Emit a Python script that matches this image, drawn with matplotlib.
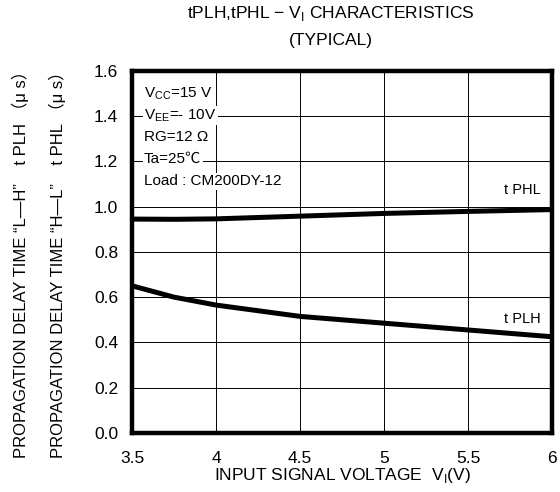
import matplotlib.pyplot as plt

plt.rcParams['font.family'] = ['Liberation Sans', 'Noto Sans CJK JP', 'DejaVu Sans']

# values
v_in = [3.5, 3.75, 4.0, 4.5, 5.0, 5.5, 6.0]
t_phl = [0.945, 0.944, 0.946, 0.958, 0.970, 0.979, 0.987]
t_plh = [0.650, 0.600, 0.565, 0.515, 0.485, 0.455, 0.425]

x_ticks = [3.5, 4, 4.5, 5, 5.5, 6]
x_labels = ['3.5', '4', '4.5', '5', '5.5', '6']
y_ticks = [0.0, 0.2, 0.4, 0.6, 0.8, 1.0, 1.2, 1.4, 1.6]

fig = plt.figure(figsize=(5.6, 4.92), dpi=100)
ax = fig.add_axes([0.236, 0.120, 0.750, 0.736])

ax.plot(v_in, t_phl, color='black', lw=3.6, solid_capstyle='butt', zorder=3)
ax.plot(v_in, t_plh, color='black', lw=3.6, solid_capstyle='butt', zorder=3)

ax.set_xlim(3.5, 6)
ax.set_ylim(0, 1.6)
ax.set_xticks(x_ticks)
ax.set_xticklabels(x_labels)
ax.set_yticks(y_ticks)
ax.set_yticklabels([f'{v:.1f}' for v in y_ticks])
ax.tick_params(axis='x', length=0, labelsize=12.5, pad=13)
ax.tick_params(axis='y', length=0, labelsize=12.5, pad=10)
ax.grid(True, color='black', lw=0.7)
for s in ax.spines.values():
    s.set_linewidth(3.2)

ax.set_xlabel('INPUT SIGNAL VOLTAGE  V$_\\mathregular{I}$(V)', fontsize=12.5, labelpad=0)

fig.text(0.036, 0.47, 'PROPAGATION DELAY TIME \u201cL\u2014H\u201d    t PLH \uff08\u03bc s\uff09',
         rotation=90, ha='center', va='center', fontsize=12)
fig.text(0.102, 0.47, 'PROPAGATION DELAY TIME \u201cH\u2014L\u201d    t PHL \uff08\u03bc s\uff09',
         rotation=90, ha='center', va='center', fontsize=12)

fig.text(0.59, 0.972, 'tPLH,tPHL \u2212 V$_\\mathregular{I}$ CHARACTERISTICS',
         ha='center', va='center', fontsize=12.5)
fig.text(0.59, 0.918, '(TYPICAL)', ha='center', va='center', fontsize=12.5)

cond = ['V$_{\\mathregular{C C}}$=15 V', 'V$_{\\mathregular{E E}}$=- 10V', 'RG=12 \u03a9',
        'Ta=25\u2103', 'Load : CM200DY-12']
for i, line in enumerate(cond):
    ax.text(3.57, 1.50 - i * 0.097, line, fontsize=11, va='center', ha='left',
            bbox=dict(facecolor='white', edgecolor='none', pad=1), zorder=4)

ax.text(5.93, 1.075, 't PHL', fontsize=10.5, ha='right', va='center')
ax.text(5.93, 0.505, 't PLH', fontsize=10.5, ha='right', va='center')

fig.savefig('out.png', dpi=100)
